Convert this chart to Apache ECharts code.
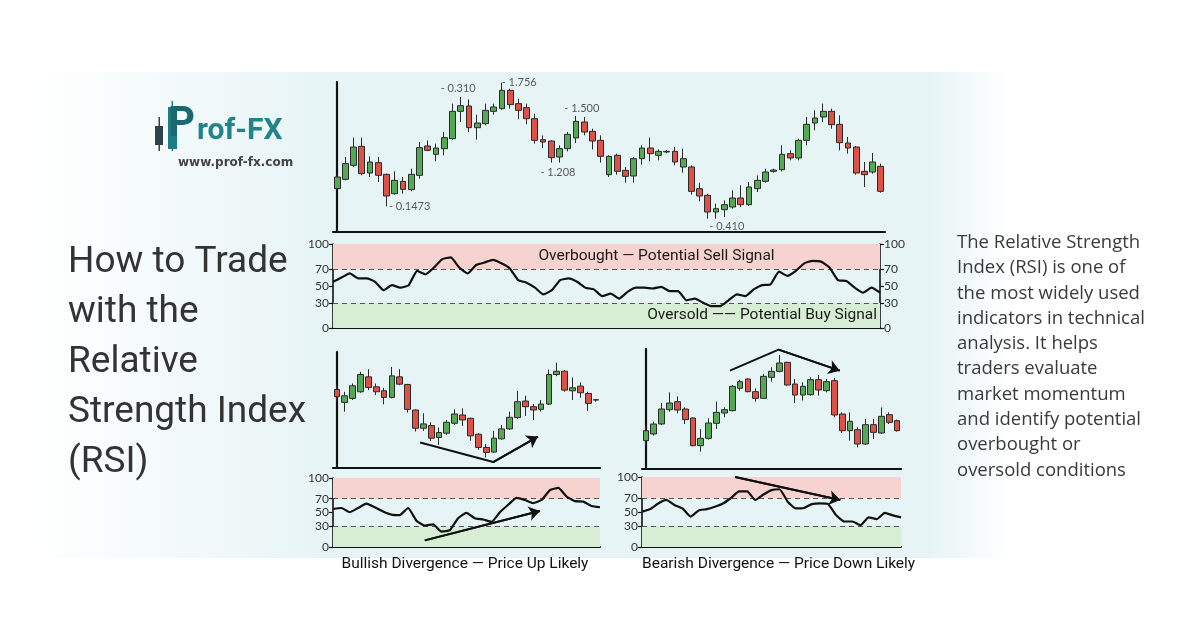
<!DOCTYPE html>
<html>
<head>
<meta charset="utf-8">
<script src="https://cdn.jsdelivr.net/npm/echarts@6/dist/echarts.min.js"></script>
<style>
  html, body { margin: 0; padding: 0; background: #fff; }
  #chart { width: 1200px; height: 628px; }
</style>
</head>
<body>
<div id="chart"></div>
<script>
  // price candles: [open, close, low, high]
  var mainCandles = [
    [140,175,135,180],[168,215,165,235],[210,265,205,293],[267,185,180,293],[187,220,175,237],
    [218,180,160,235],[183,118,87,185],[125,165,122,192],[162,138,125,175],[137,183,132,200],
    [180,263,170,280],[268,255,252,285],[243,262,222,275],[260,293,240,310],[290,372,287,395],
    [372,389,340,415],[388,323,310,408],[323,337,287,362],[335,375,330,395],[372,385,362,395],
    [380,435,377,458],[435,392,380,440],[395,375,348,410],[383,350,333,395],[350,285,275,365],
    [287,280,262,300],[283,233,218,285],[235,260,218,270],[260,303,252,310],[292,342,277,358],
    [340,310,300,355],[312,283,258,320],[285,237,218,300],[182,237,175,240],[240,192,182,245],
    [195,177,158,205],[178,230,158,235],[230,262,212,270],[262,245,222,293],[240,252,225,258],
    [250,252,246,256],[252,220,210,265],[205,230,188,260],[205,132,122,210],[140,118,102,158],
    [120,70,50,125],[70,80,50,95],[77,92,55,105],[85,112,80,135],[112,92,85,150],
    [92,145,88,160],[140,165,130,180],[162,190,158,200],[192,196,188,200],[197,243,192,270],
    [245,232,225,255],[232,285,225,290],[285,333,270,355],[337,352,315,375],[355,372,340,395],
    [372,332,320,380],[333,278,255,360],[277,262,245,295],[265,187,182,268],[192,182,145,220],
    [190,220,185,247],[207,132,128,215]
  ];
  // price notes: [candle position, price level, text]
  var mainNotes = [
    [14.7, 441, '- 0.310'],
    [22.1, 459, '- 1.756'],
    [29.7, 380, '- 1.500'],
    [26.8, 190, '- 1.208'],
    [8.8, 88, '- 0.1473'],
    [47.3, 28, '- 0.410']
  ];
  var mainRsi = [55,60,65,59,59,55,45,51,48,51,68,64,72,82,84,72,65,75,78,81,77,71,57,54,48,40,45,57,59,55,
    48,46,38,41,35,43,48,48,47,49,44,44,33,35,30,26,26,33,40,38,46,51,52,67,62,68,77,80,79,72,
    57,56,48,42,48,42];

  var bullCandles = [
    [267,245,230,282],[228,248,200,260],[240,278,235,285],[260,312,257,320],[305,273,265,328],
    [275,260,250,285],[263,243,222,272],[243,308,240,335],[305,283,280,328],[282,207,197,284],
    [205,150,140,207],[150,163,142,195],[158,120,112,168],[122,137,100,152],[135,168,130,175],
    [165,193,160,207],[190,175,157,210],[180,127,112,182],[132,92,85,135],[92,77,62,102],
    [78,120,75,142],[118,148,115,160],[148,183,145,200],[182,230,178,263],[232,215,187,248],
    [215,205,175,223],[207,223,200,235],[223,312,220,327],[312,322,307,348],[322,265,260,325],
    [263,272,235,303],[277,257,242,288],[255,225,202,260],[236,235,230,238]
  ];
  var bullRsi = [55.1,56.5,50.5,56.5,62.8,57.6,51.6,47,46.3,56.5,38.1,31.1,32.8,22.3,24.3,41.7,49.5,
    41.7,39.9,36.4,50.5,61.2,71.3,68.2,63.6,68.2,82.5,85.6,73.1,66.5,65.8,59.4,57.6];
  var bullPriceArrow = [[10.6,107],[19.9,48],[25.6,125]];
  var bullRsiArrow = [[11.0,9.6],[24.8,52.3]];

  var bearCandles = [
    [115,145,100,160],[135,165,130,172],[165,210,162,228],[208,228,202,260],[232,207,197,248],
    [210,178,165,215],[183,100,98,185],[100,122,82,150],[122,168,118,182],[167,200,150,232],
    [198,208,185,215],[205,278,203,282],[272,292,265,298],[300,262,260,302],[262,242,232,272],
    [242,308,240,315],[305,323,292,335],[323,348,320,372],[350,282,280,352],[285,252,228,300],
    [252,278,235,290],[253,298,250,305],[298,267,250,312],[265,292,260,300],[295,192,185,303],
    [195,145,138,200],[145,173,115,200],[148,105,95,155],[105,163,102,180],[163,140,120,180],
    [138,188,135,215],[193,170,165,200],[175,145,142,178]
  ];
  var bearRsi = [50.5,54.1,62.2,67.2,60.1,55.1,43.5,52.3,54.1,57.6,62.2,70,79.4,79.4,67.2,75,81.3,
    82.5,64.7,55.1,55.8,61.2,62.2,61.2,45.2,36.4,36.4,31.1,42.4,39.9,48.8,45.2,42.4];
  var bearPriceArrow = [[10.7,325],[16.9,388],[24.7,325]];
  var bearRsiArrow = [[11.5,100],[24.5,67]];

  var rsiTicks = [0, 30, 50, 70, 100];
  var overbought = 70, oversold = 30;

  var UP = '#55a955', DOWN = '#de5147', EDGE = '#2b2b2b', INK = '#111';
  var handFont = "'Roboto', sans-serif";

  var chart = echarts.init(document.getElementById('chart'));

  function range(n) {
    var a = [];
    for (var i = 0; i < n; i++) a.push(i);
    return a;
  }

  var grids = [
    {left: 333, top: 82, width: 552, height: 150},   // main price
    {left: 333, top: 244, width: 547, height: 84},   // main rsi
    {left: 333, top: 352, width: 267, height: 116},  // bullish price
    {left: 333, top: 478, width: 267, height: 69},   // bullish rsi
    {left: 642, top: 349, width: 259, height: 120},  // bearish price
    {left: 642, top: 477, width: 259, height: 70}    // bearish rsi
  ];
  var lens = [mainCandles.length, mainRsi.length, bullCandles.length, bullRsi.length, bearCandles.length, bearRsi.length];

  var xAxes = [], yAxes = [];
  grids.forEach(function (g, i) {
    var isRsi = i % 2 === 1;
    xAxes.push({
      type: 'category', gridIndex: i, data: range(lens[i]), boundaryGap: !isRsi,
      axisLine: {lineStyle: {color: INK, width: isRsi ? 1.8 : 2.2}},
      axisTick: {show: false}, axisLabel: {show: false}, splitLine: {show: false}
    });
  });
  // hidden value axes used for notes and arrows
  grids.forEach(function (g, i) {
    var isRsi = i % 2 === 1;
    xAxes.push({
      type: 'value', gridIndex: i, show: false,
      min: isRsi ? 0 : -0.5, max: isRsi ? lens[i] - 1 : lens[i] - 0.5
    });
  });

  var priceRange = [[10, 460], null, [30, 380], null, [30, 390], null];
  function rsiAxis(i, pos) {
    return {
      type: 'value', gridIndex: i, min: 0, max: 100, position: pos || 'left',
      axisLine: {show: true, lineStyle: {color: INK, width: 1.6}},
      axisTick: {show: true, length: 4, customValues: rsiTicks, lineStyle: {color: INK, width: 1.2}},
      axisLabel: {customValues: rsiTicks, fontSize: 12, color: '#333', margin: 4, fontFamily: 'Lato, sans-serif'},
      splitLine: {show: false}
    };
  }
  grids.forEach(function (g, i) {
    if (i % 2 === 1) {
      yAxes.push(rsiAxis(i));
    } else {
      yAxes.push({
        type: 'value', gridIndex: i, min: priceRange[i][0], max: priceRange[i][1],
        axisLine: {show: true, lineStyle: {color: INK, width: 2.2}},
        axisTick: {show: false}, axisLabel: {show: false}, splitLine: {show: false}
      });
    }
  });
  yAxes.push(rsiAxis(1, 'right'));

  function candleSeries(data, i, w) {
    return {
      type: 'candlestick', xAxisIndex: i, yAxisIndex: i, data: data, barWidth: w,
      itemStyle: {color: UP, color0: DOWN, borderColor: EDGE, borderColor0: EDGE, borderWidth: 1}
    };
  }

  function rsiSeries(data, i, withLabels) {
    return {
      type: 'line', xAxisIndex: i, yAxisIndex: i, data: data, symbol: 'none', smooth: 0.15,
      lineStyle: {color: INK, width: 2.2}, z: 5,
      markArea: {
        silent: true,
        data: [
          [{yAxis: overbought, itemStyle: {color: '#f7d3cf'},
            label: {show: withLabels, position: 'inside', offset: [50, 0], formatter: 'Overbought — Potential Sell Signal',
              fontSize: 15.5, color: '#1a1a1a', fontFamily: handFont}}, {yAxis: 100}],
          [{yAxis: 0, itemStyle: {color: '#d7edd4'},
            label: {show: withLabels, position: 'insideRight', distance: 3, formatter: 'Oversold —— Potential Buy Signal',
              fontSize: 15.5, color: '#1a1a1a', fontFamily: handFont}}, {yAxis: oversold}]
        ]
      },
      markLine: {
        silent: true, symbol: ['none', 'none'], label: {show: false},
        lineStyle: {type: [5, 4], color: '#555', width: 1.2},
        data: [{yAxis: overbought}, {yAxis: oversold}]
      }
    };
  }

  function arrowSeries(pts, i) {
    var n = pts.length;
    return {
      type: 'line', xAxisIndex: 6 + i, yAxisIndex: i, data: pts, symbol: 'none', clip: false, silent: true, z: 6,
      lineStyle: {color: INK, width: 2},
      markLine: {
        silent: true, symbol: ['none', 'arrow'], symbolSize: 11, label: {show: false},
        lineStyle: {color: INK, width: 2, type: 'solid'},
        data: [[{coord: pts[n - 2]}, {coord: pts[n - 1]}]]
      }
    };
  }

  var series = [
    candleSeries(mainCandles, 0, '76%'),
    {
      type: 'scatter', xAxisIndex: 6, yAxisIndex: 0, symbolSize: 0, clip: false, silent: true,
      data: mainNotes.map(function (d) { return {value: [d[0], d[1]], name: d[2]}; }),
      label: {show: true, position: 'inside', formatter: '{b}', fontSize: 11, color: '#333', fontFamily: 'Lato, sans-serif'}
    },
    rsiSeries(mainRsi, 1, true),
    candleSeries(bullCandles, 2, '80%'),
    arrowSeries(bullPriceArrow, 2),
    rsiSeries(bullRsi, 3, false),
    arrowSeries(bullRsiArrow, 3),
    candleSeries(bearCandles, 4, '80%'),
    arrowSeries(bearPriceArrow, 4),
    rsiSeries(bearRsi, 5, false),
    arrowSeries(bearRsiArrow, 5)
  ];

  var graphics = [
    {
      type: 'rect', z: -10, silent: true,
      shape: {x: 30, y: 72, width: 980, height: 486},
      style: {
        fill: new echarts.graphic.LinearGradient(0, 0, 1, 0, [
          {offset: 0, color: 'rgba(231,244,246,0)'},
          {offset: 0.3, color: '#e7f4f6'},
          {offset: 0.92, color: '#e7f4f6'},
          {offset: 1, color: 'rgba(231,244,246,0)'}
        ])
      }
    },
    // logo
    {type: 'rect', z: 20, shape: {x: 158.5, y: 117, width: 1.5, height: 34}, style: {fill: '#2e4249'}},
    {type: 'rect', z: 20, shape: {x: 155, y: 126, width: 8, height: 19}, style: {fill: '#2e4249'}},
    {type: 'rect', z: 20, shape: {x: 171.5, y: 101, width: 1.5, height: 50}, style: {fill: '#1e7c84'}},
    {type: 'rect', z: 20, shape: {x: 168, y: 107, width: 9, height: 42}, style: {fill: '#1e7c84'}},
    {type: 'text', z: 21, x: 168, y: 104, style: {text: 'P', font: 'bold 42px Roboto, sans-serif', fill: '#1b6870'}},
    {type: 'text', z: 21, x: 197, y: 116, style: {text: 'rof-FX', font: 'bold 30px Roboto, sans-serif', fill: '#23838b'}},
    {type: 'text', z: 21, x: 178, y: 157, style: {text: 'www.prof-fx.com', font: 'bold 12px "DejaVu Sans", sans-serif', fill: '#444'}},
    // title
    {type: 'text', z: 21, x: 68, y: 238, style: {
      text: 'How to Trade\nwith the\nRelative\nStrength Index\n(RSI)',
      font: '37px Roboto, sans-serif', lineHeight: 50, fill: '#333'}},
    // description
    {type: 'text', z: 21, x: 957, y: 230, style: {
      text: 'The Relative Strength\nIndex (RSI) is one of\nthe most widely used\nindicators in technical\nanalysis. It helps\ntraders evaluate\nmarket momentum\nand identify potential\noverbought or\noversold conditions',
      font: '18.5px "Open Sans", sans-serif', lineHeight: 25.3, fill: '#3a3a3a'}},
    // captions
    {type: 'text', z: 21, x: 465, y: 564, style: {
      text: 'Bullish Divergence — Price Up Likely', font: '15.5px ' + handFont, fill: '#111',
      align: 'center', verticalAlign: 'middle'}},
    {type: 'text', z: 21, x: 642, y: 564, style: {
      text: 'Bearish Divergence — Price Down Likely', font: '15.5px ' + handFont, fill: '#111',
      align: 'left', verticalAlign: 'middle'}}
  ];

  chart.setOption({
    animation: false,
    backgroundColor: '#ffffff',
    grid: grids,
    xAxis: xAxes,
    yAxis: yAxes,
    series: series,
    graphic: graphics
  });
</script>
</body>
</html>
